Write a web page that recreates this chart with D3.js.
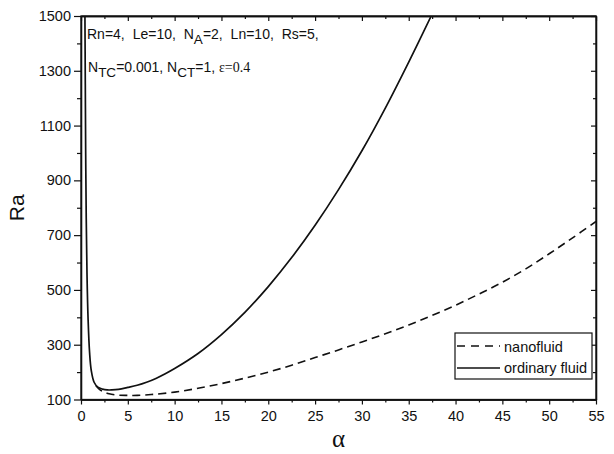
<!DOCTYPE html>
<html><head><meta charset="utf-8">
<script src="https://cdn.jsdelivr.net/npm/d3@7"></script>
<style>body{margin:0;background:#fff}svg{display:block}</style>
</head><body>
<svg id="c" width="614" height="454"></svg>
<script>
// Ordinary fluid (solid)
const ordAlpha = [0.42,0.46,0.5,0.56,0.64,0.76,0.92,1.1,1.4,1.8,2.3,2.8,3.3,4.0,5.0,6.0,7.0,8.0,9.0,10,12.5,15,17.5,20,22.5,25,27.5,30,32.5,35,37.4];
const ordRa    = [1500,1250,1000,760,560,390,270,205,163,145,138,135,135,137,144,152,163,177,194,213,268,337,418,512,618,736,866,1008,1164,1332,1500];
// Nanofluid (dashed)
const nanoAlpha = [1.6,2.0,2.5,3.0,4.0,5.0,6.0,7.5,10,12.5,15,17.5,20,22.5,25,27.5,30,32.5,35,37.5,40,42.5,45,47.5,50,52.5,55];
const nanoRa    = [150,136,127,121,116,115,115,118,127,141,158,178,200,225,253,281,310,340,372,407,444,485,528,577,632,690,750];
const xTicks = [0,5,10,15,20,25,30,35,40,45,50,55];
const yTicks = [100,300,500,700,900,1100,1300,1500];

const svg = d3.select("#c");
const L=81, R=596, T=16, B=399.5;
const x = d3.scaleLinear().domain([0,55]).range([L,R]);
const y = d3.scaleLinear().domain([100,1500]).range([B,T]);
const ink="#111";
const sans="Liberation Sans, Arial, sans-serif";
const serif="Liberation Serif, Times New Roman, serif";

svg.append("clipPath").attr("id","clip").append("rect").attr("x",L).attr("y",T).attr("width",R-L).attr("height",B-T);

const xMinor = d3.range(2.5,55,5);
const yMinor = d3.range(200,1500,200);

// bottom axis
const gb = svg.append("g").attr("transform",`translate(0,${B})`)
  .call(d3.axisBottom(x).tickValues(xTicks).tickSize(5).tickSizeOuter(0).tickFormat(d3.format("d")));
svg.append("g").attr("transform",`translate(0,${B})`)
  .call(d3.axisBottom(x).tickValues(xMinor).tickSize(3).tickSizeOuter(0).tickFormat(""));
// top axis (inward)
svg.append("g").attr("transform",`translate(0,${T})`)
  .call(d3.axisBottom(x).tickValues(xTicks).tickSize(5).tickSizeOuter(0).tickFormat(""));
svg.append("g").attr("transform",`translate(0,${T})`)
  .call(d3.axisBottom(x).tickValues(xMinor).tickSize(3).tickSizeOuter(0).tickFormat(""));
// left axis
svg.append("g").attr("transform",`translate(${L},0)`)
  .call(d3.axisLeft(y).tickValues(yTicks).tickSize(7).tickSizeOuter(0).tickFormat(d3.format("d")));
svg.append("g").attr("transform",`translate(${L},0)`)
  .call(d3.axisLeft(y).tickValues(yMinor).tickSize(4).tickSizeOuter(0).tickFormat(""));
// right axis (inward)
svg.append("g").attr("transform",`translate(${R},0)`)
  .call(d3.axisLeft(y).tickValues(yTicks).tickSize(5).tickSizeOuter(0).tickFormat(""));
svg.append("g").attr("transform",`translate(${R},0)`)
  .call(d3.axisLeft(y).tickValues(yMinor).tickSize(3).tickSizeOuter(0).tickFormat(""));

svg.selectAll(".domain").attr("stroke",ink).attr("stroke-width",1.3);
svg.selectAll(".tick line").attr("stroke",ink).attr("stroke-width",1.2);
svg.selectAll(".tick text").attr("fill",ink).style("font-family",sans).style("font-size","14.5px");
gb.selectAll(".tick text").attr("dy","0.95em");

// frame
svg.append("rect").attr("x",L).attr("y",T).attr("width",R-L).attr("height",B-T)
  .attr("fill","none").attr("stroke",ink).attr("stroke-width",1.3);

// lines
const line = d3.line().x(d=>x(d[0])).y(d=>y(d[1])).curve(d3.curveCatmullRom.alpha(0.5));
const gl = svg.append("g").attr("clip-path","url(#clip)");
gl.append("path").datum(nanoAlpha.map((a,i)=>[a,nanoRa[i]])).attr("d",line)
  .attr("fill","none").attr("stroke",ink).attr("stroke-width",1.6).attr("stroke-dasharray","8,5");
gl.append("path").datum(ordAlpha.map((a,i)=>[a,ordRa[i]])).attr("d",line)
  .attr("fill","none").attr("stroke",ink).attr("stroke-width",1.7);

// axis titles
svg.append("text").attr("transform",`translate(24,${(T+B)/2}) rotate(-90)`).attr("text-anchor","middle")
  .style("font-family",sans).style("font-size","21px").attr("fill",ink).text("Ra");
svg.append("text").attr("x",(L+R)/2).attr("y",447).attr("text-anchor","middle")
  .style("font-family",serif).style("font-size","25px").attr("fill",ink).text("α");

// annotation
const t1 = svg.append("text").attr("x",87).attr("y",39).style("font-family",sans).style("font-size","14px")
  .style("word-spacing","4px").attr("fill",ink);
t1.append("tspan").text("Rn=4, Le=10, N");
t1.append("tspan").attr("dy",5).style("font-size","13.5px").text("A");
t1.append("tspan").attr("dy",-5).text("=2, Ln=10, Rs=5,");
const t2 = svg.append("text").attr("x",88).attr("y",72).style("font-family",sans).style("font-size","14px").attr("fill",ink);
t2.append("tspan").text("N");
t2.append("tspan").attr("dy",5).style("font-size","13.5px").text("TC");
t2.append("tspan").attr("dy",-5).text("=0.001, N");
t2.append("tspan").attr("dy",5).style("font-size","13.5px").text("CT");
t2.append("tspan").attr("dy",-5).text("=1, ");
t2.append("tspan").style("font-family",serif).style("font-size","14px").text("ε=0.4");

// legend
const lg = svg.append("g");
lg.append("rect").attr("x",455).attr("y",333).attr("width",137).attr("height",46).attr("fill","#fff").attr("stroke",ink).attr("stroke-width",1.2);
lg.append("line").attr("x1",457).attr("x2",500).attr("y1",346).attr("y2",346).attr("stroke",ink).attr("stroke-width",1.4).attr("stroke-dasharray","8,6");
lg.append("line").attr("x1",457).attr("x2",500).attr("y1",368).attr("y2",368).attr("stroke",ink).attr("stroke-width",1.4);
lg.append("text").attr("x",504).attr("y",351.5).style("font-family",sans).style("font-size","14.5px").attr("fill",ink).text("nanofluid");
lg.append("text").attr("x",504).attr("y",373).style("font-family",sans).style("font-size","14.5px").attr("fill",ink).text("ordinary fluid");
</script>
</body></html>
